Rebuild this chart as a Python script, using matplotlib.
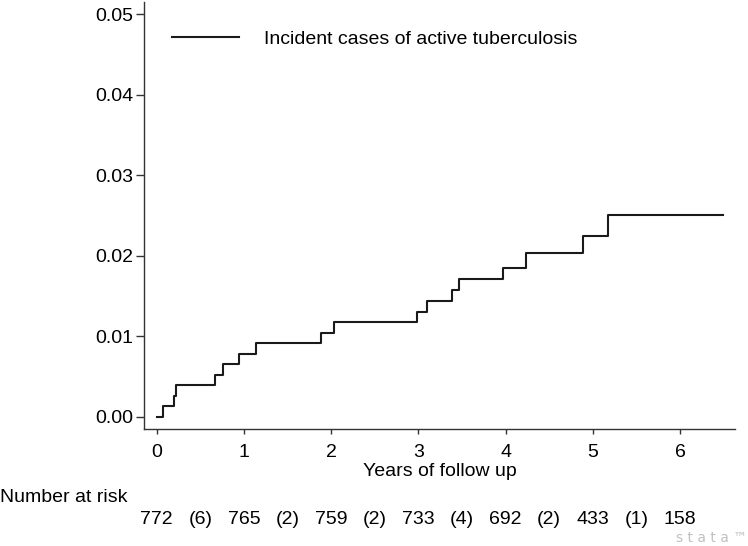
import matplotlib
matplotlib.use('Agg')
import matplotlib.pyplot as plt

# Kaplan-Meier style cumulative incidence (step curve)
years = [0, 0.07, 0.20, 0.22, 0.67, 0.76, 0.94, 1.14, 1.88, 2.03, 2.98,
         3.10, 3.39, 3.46, 3.97, 4.23, 4.89, 5.17, 6.49]
incidence = [0, 0.0013, 0.0026, 0.0039, 0.0052, 0.0065, 0.0078, 0.0091,
             0.0104, 0.0117, 0.0130, 0.0144, 0.0157, 0.0171, 0.0185,
             0.0203, 0.0225, 0.0250, 0.0250]

# Number at risk table
risk_years = [0, 1, 2, 3, 4, 5, 6]
at_risk = [772, 765, 759, 733, 692, 433, 158]
events = [6, 2, 2, 4, 2, 1]

y_ticks = [0.00, 0.01, 0.02, 0.03, 0.04, 0.05]
x_ticks = [0, 1, 2, 3, 4, 5, 6]

plt.rcParams['font.family'] = ['Liberation Sans', 'DejaVu Sans']
FS = 14

fig = plt.figure(figsize=(7.48, 5.46), dpi=100)
ax = fig.add_axes([0.1925, 0.2137, 0.7901, 0.7826])

ax.step(years, incidence, where='post', color='#1a1a1a', linewidth=1.5,
        label='Incident cases of active tuberculosis')

ax.set_xlim(-0.146, 6.63)
ax.set_ylim(-0.00157, 0.0515)
ax.set_xticks(x_ticks)
ax.set_yticks(y_ticks)
ax.set_yticklabels([f'{v:.2f}' for v in y_ticks])
ax.tick_params(axis='y', labelsize=FS, length=6, width=1, color='#333333', pad=1.5)
ax.tick_params(axis='x', labelsize=FS, length=3.5, width=1, color='#333333', pad=7)
for side in ['top', 'right']:
    ax.spines[side].set_visible(False)
for side in ['left', 'bottom']:
    ax.spines[side].set_color('#333333')
    ax.spines[side].set_linewidth(1)

# x axis title sits right under the tick labels, centred on the axes
ax_box = ax.get_position()
fig.text((ax_box.x0 + ax_box.x1) / 2, 1 - 471 / 546,
         'Years of follow up', fontsize=FS, ha='center', va='center')

ax.legend(loc='center left', bbox_to_anchor=(0.047, 0.9134), frameon=False,
          fontsize=FS, handlelength=3.45, handletextpad=1.3,
          borderpad=0, borderaxespad=0)

# number at risk table under the axis
fig.text(0, 1 - 498 / 546, 'Number at risk', fontsize=FS, va='center', ha='left')
row_y = 1 - 520 / 546
for x, n in zip(risk_years, at_risk):
    fig.text(ax.transData.transform((x, 0))[0] / fig.bbox.width, row_y, str(n),
             fontsize=FS, va='center', ha='center')
for i, e in enumerate(events):
    xm = risk_years[i] + 0.5
    fig.text(ax.transData.transform((xm, 0))[0] / fig.bbox.width, row_y, f'({e})',
             fontsize=FS, va='center', ha='center')

# faint software watermark
fig.text(0.999, 1 - 538 / 546, 's t a t a ™', fontsize=10, color='#c0c0c0',
         ha='right', va='center', family='DejaVu Sans')

fig.savefig('out.png', dpi=100)
